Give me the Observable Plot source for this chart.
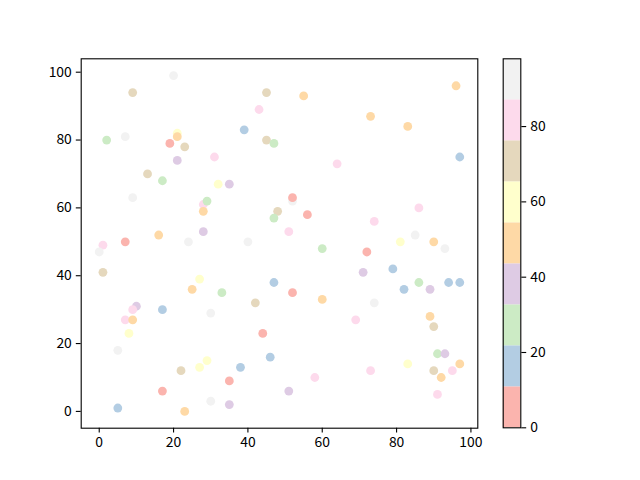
<!DOCTYPE html>
<html>
<head>
<meta charset="utf-8">
<script src="https://cdn.jsdelivr.net/npm/d3@7"></script>
<script src="https://cdn.jsdelivr.net/npm/@observablehq/plot@0.6"></script>
<style>
  body { margin: 0; background: #fff; }
  #fig { position: relative; width: 640px; height: 480px; background: #fff; }
  #fig svg { position: absolute; top: 0; overflow: visible; }
</style>
</head>
<body>
<div id="fig"></div>
<script>
// Data
const xs = [20,9,45,43,39,7,2,21,21,19, 23,45,47,21,31,13,17,32,35,9, 28,29,28,48,47,16,28,1,7,24,
            40,55,96,73,83,97,64,52,52,56, 86,51,74,85,81,90,0,1,27,25, 33,47,42,10,9,17,30,7,9,44,
            8,46,5,29,27,22,38,35,17,30, 35,5,23,93,60,72,79,71,86,94, 97,82,89,52,60,74,69,89,90,91,
            93,97,83,73,90,95,92,58,51,91];
const ys = [99,94,94,89,83,81,80,82,81,79, 78,80,79,74,75,70,68,67,67,63, 61,62,59,59,57,52,53,49,50,50,
            50,93,96,87,84,75,73,62,63,58, 60,53,56,52,50,50,47,41,39,36, 35,38,32,31,30,30,29,27,27,23,
            23,16,18,15,13,12,13,9,6,3, 2,1,0,48,48,47,42,41,38,38, 38,36,36,35,33,32,27,28,25,17,
            17,14,14,12,12,12,10,10,6,5];
const cs = [93,71,71,82,16,93,27,60,49,5, 71,71,27,38,82,71,27,60,38,93, 82,27,49,71,27,49,38,82,5,93,
            93,49,49,49,49,16,82,93,5,5, 82,82,82,93,60,49,93,71,60,49, 27,16,71,38,82,16,93,82,49,5,
            60,16,93,60,60,71,16,5,5,93, 38,16,49,93,27,5,16,38,27,16, 16,16,38,5,49,93,82,49,71,27,
            38,49,60,82,71,82,49,82,38,82];
const cMin = 0, cMax = 98;
const xTicks = [0, 20, 40, 60, 80, 100];
const yTicks = [0, 20, 40, 60, 80, 100];
const cTicks = [0, 20, 40, 60, 80];

const colors = d3.schemePastel1;
const nBins = colors.length;
const thresholds = d3.range(1, nBins).map(i => cMin + i * (cMax - cMin) / nBins);
const colorScale = { type: "threshold", domain: thresholds, range: colors };

const points = xs.map((x, i) => ({ x, y: ys[i], c: cs[i] }));
const pad = (ext) => { const m = 0.05 * (ext[1] - ext[0]); return [ext[0] - m, ext[1] + m]; };

const FONT = "'Noto Sans CJK SC', 'Noto Sans', sans-serif";
const FS = 13.9;

const main = Plot.plot({
  width: 640, height: 480,
  marginLeft: 80.7, marginRight: 640 - 477.3, marginTop: 58.3, marginBottom: 480 - 427.7,
  style: { fontFamily: FONT, color: "black", background: "transparent" },
  x: { domain: pad(d3.extent(xs)) },
  y: { domain: pad(d3.extent(ys)) },
  color: colorScale,
  marks: [
    Plot.dot(points, { x: "x", y: "y", fill: "c", r: 4.4 }),
    Plot.frame({ stroke: "black", strokeWidth: 1.1 }),
    Plot.axisX({ ticks: xTicks, tickSize: 4.9, tickPadding: 4.5, fontSize: FS, tickFormat: d => d, label: null, strokeWidth: 1.1 }),
    Plot.axisY({ ticks: yTicks, tickSize: 4.9, tickPadding: 4.5, fontSize: FS, tickFormat: d => d, label: null, strokeWidth: 1.1 })
  ]
});

const bins = colors.map((_, i) => ({
  y1: cMin + i * (cMax - cMin) / nBins,
  y2: cMin + (i + 1) * (cMax - cMin) / nBins
}));

const cbar = Plot.plot({
  width: 150, height: 480,
  marginLeft: 12.7, marginRight: 150 - 30.3, marginTop: 58.3, marginBottom: 480 - 427.3,
  style: { fontFamily: FONT, color: "black", background: "transparent" },
  x: { domain: [0, 1], axis: null },
  y: { domain: [cMin, cMax] },
  color: colorScale,
  marks: [
    Plot.rect(bins, { x1: 0, x2: 1, y1: "y1", y2: "y2", fill: d => (d.y1 + d.y2) / 2 }),
    Plot.frame({ stroke: "black", strokeWidth: 1.1 }),
    Plot.axisY({ anchor: "right", ticks: cTicks, tickSize: 4.9, tickPadding: 4.5, fontSize: FS, tickFormat: d => d, label: null, strokeWidth: 1.1 })
  ]
});

const fig = document.getElementById("fig");
main.style.left = "0px";
cbar.style.left = "490px";
fig.appendChild(main);
fig.appendChild(cbar);
</script>
</body>
</html>
